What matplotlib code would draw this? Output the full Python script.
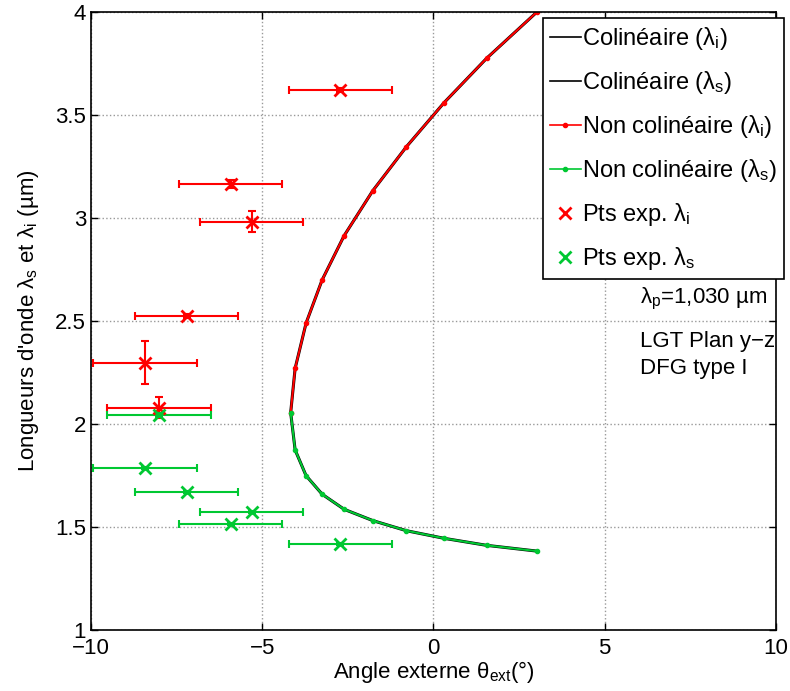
import numpy as np
import matplotlib
matplotlib.use('Agg')
import matplotlib.pyplot as plt

plt.rcParams['font.family'] = ['Liberation Sans', 'DejaVu Sans']
plt.rcParams['mathtext.fontset'] = 'custom'
plt.rcParams['mathtext.rm'] = 'Liberation Sans'
plt.rcParams['mathtext.it'] = 'Liberation Sans'
plt.rcParams['axes.unicode_minus'] = True

#courbes theoriques (angle externe en deg, longueurs d'onde en um)
theta = [-4.17, -4.04, -3.72, -3.25, -2.61, -1.77, -0.79, 0.31, 1.55, 3.02]
lam_i = [2.055, 2.27, 2.49, 2.70, 2.914, 3.133, 3.346, 3.56, 3.775, 4.0]
lam_s = [2.055, 1.874, 1.749, 1.659, 1.586, 1.531, 1.482, 1.445, 1.411, 1.383]

#points experimentaux
theta_exp = [-2.72, -5.92, -5.31, -7.21, -8.42, -8.01]
theta_err = [1.51, 1.51, 1.51, 1.51, 1.51, 1.51]
li_exp = [3.62, 3.165, 2.982, 2.523, 2.298, 2.079]
li_err = [0.01, 0.02, 0.05, 0.01, 0.105, 0.05]
ls_exp = [1.419, 1.513, 1.574, 1.668, 1.785, 2.042]
ls_err = [0.005, 0.005, 0.005, 0.005, 0.005, 0.01]

red = '#ff0000'
green = '#00c832'

fig = plt.figure(figsize=(7.9, 6.91), dpi=100)
ax = fig.add_axes([91/790, 1-630/691, (776-91)/790, (630-12)/691])

ax.plot(theta, lam_i, color='k', lw=2.2, label=r'Colinéaire ($\mathregular{\lambda_i}$)')
ax.plot(theta, lam_s, color='k', lw=2.2, label=r'Colinéaire ($\mathregular{\lambda_s}$)')
ax.plot(theta, lam_i, color=red, lw=1.5, marker='.', ms=6, label=r'Non colinéaire ($\mathregular{\lambda_i}$)')
ax.plot(theta, lam_s, color=green, lw=1.5, marker='.', ms=6, label=r'Non colinéaire ($\mathregular{\lambda_s}$)')

ax.errorbar(theta_exp, li_exp, xerr=theta_err, yerr=li_err, fmt='none', ecolor=red,
            elinewidth=1.5, capsize=3, capthick=1.5)
ax.errorbar(theta_exp, ls_exp, xerr=theta_err, yerr=ls_err, fmt='none', ecolor=green,
            elinewidth=1.5, capsize=3, capthick=1.5)
ax.plot(theta_exp, li_exp, ls='none', marker='x', ms=9, mew=2, color=red,
        label=r'Pts exp. $\mathregular{\lambda_i}$')
ax.plot(theta_exp, ls_exp, ls='none', marker='x', ms=9, mew=2, color=green,
        label=r'Pts exp. $\mathregular{\lambda_s}$')

ax.set_xlim(-10, 10)
ax.set_ylim(1, 4)
ax.set_xticks([-10, -5, 0, 5, 10])
ax.set_yticks([1, 1.5, 2, 2.5, 3, 3.5, 4])
ax.set_yticklabels(['1', '1.5', '2', '2.5', '3', '3.5', '4'])
ax.tick_params(direction='in', top=True, right=True, labelsize=16, length=5, width=1)
ax.tick_params(axis='x', pad=6)
ax.grid(True, ls=':', color='#999999', lw=1)
for s in ax.spines.values():
    s.set_linewidth(1.2)

ax.set_xlabel(r'Angle externe $\mathregular{\theta_{ext}}$(°)', fontsize=16, labelpad=0)
ax.set_ylabel(r"Longueurs d'onde $\mathregular{\lambda_s}$ et $\mathregular{\lambda_i}$ (µm)",
              fontsize=16, labelpad=10)

leg = fig.legend(loc='upper left', bbox_to_anchor=(543/790, 1-18/691), fontsize=17,
                 frameon=True, fancybox=False, edgecolor='k', framealpha=1,
                 handlelength=1.3, handletextpad=0.05, labelspacing=0.72,
                 borderpad=0.3, borderaxespad=0)
leg.get_frame().set_linewidth(1.2)
for h in leg.legend_handles:
    h.set_linewidth(1.2)

ax.text(0.801, 0.535, r'$\mathregular{\lambda_p}$=1,030 µm', transform=ax.transAxes, fontsize=16, va='center')
ax.text(0.801, 0.467, 'LGT Plan y−z', transform=ax.transAxes, fontsize=16, va='center')
ax.text(0.801, 0.423, 'DFG type I', transform=ax.transAxes, fontsize=16, va='center')

fig.savefig('out.png', dpi=100)
